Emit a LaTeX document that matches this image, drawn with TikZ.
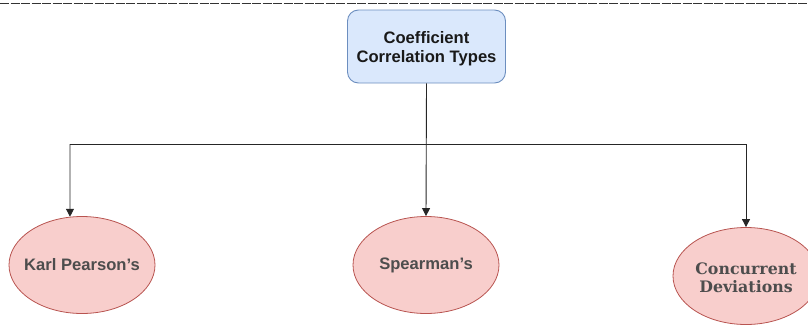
\documentclass[tikz,border=0pt]{standalone}
\usepackage{fontspec}
\setmainfont{Liberation Sans}
\newfontfamily\serifbold{DejaVu Serif}
\usetikzlibrary{arrows.meta,shapes.geometric}

\definecolor{boxfill}{HTML}{DAE8FC}
\definecolor{boxline}{HTML}{6C8EBF}
\definecolor{ovalfill}{HTML}{F8CECC}
\definecolor{ovalline}{HTML}{B85450}
\definecolor{ovaltext}{HTML}{4D4D4D}

% invisible strut that nudges the first line of a node downwards
\newcommand{\topstrut}[1]{\rule{0pt}{#1}}

\tikzset{
  rootbox/.style={draw=boxline, fill=boxfill, line width=0.9pt, rounded corners=11pt,
    minimum width=158pt, minimum height=73pt, align=center, inner sep=0pt,
    font=\fontsize{16.6}{19}\selectfont\bfseries, text=black!90},
  typeoval/.style={ellipse, draw=ovalline, fill=ovalfill, line width=0.8pt,
    minimum width=146pt, minimum height=97pt, inner xsep=-30pt, inner ysep=-15pt,
    align=center, font=\fontsize{16.6}{20}\selectfont\bfseries, text=ovaltext},
  link/.style={draw=black!85, line width=0.9pt},
  arrowlink/.style={link, -{Triangle[length=8pt,width=8pt]}},
  toprule/.style={draw=black!80, line width=1.5pt, dash pattern=on 9pt off 1.5pt}
}

\begin{document}
\begin{tikzpicture}[x=1pt,y=-1pt]
  \useasboundingbox (0,0) rectangle (808,324);

  % rule along the top edge
  \coordinate (ruleL) at (0,3.5);
  \coordinate (ruleR) at (808,3.5);
  \draw[toprule] (ruleL) -- (ruleR);

  % root node
  \node[rootbox] (root) at (426.5,46.5) {\topstrut{15.5pt}Coefficient\\Correlation Types};

  % the three correlation types
  \node[typeoval] (karl) at (82,265) {Karl Pearson’s};
  \node[typeoval] (spear) at (426,265) {Spearman’s};
  \node[typeoval, font=\fontsize{15.8}{18.7}\selectfont\serifbold\bfseries] (conc) at (746,276)
    {\topstrut{15pt}Concurrent\\Deviations};

  % connectors
  \coordinate (leftend) at (70,144);
  \coordinate (rightend) at (746,144);
  \draw[link] (leftend) -- (rightend);
  \draw[arrowlink] (root.south) -- (spear.north);
  \draw[arrowlink] (leftend) -- (karl.104);
  \draw[arrowlink] (rightend) -- (conc.north);
\end{tikzpicture}
\end{document}
